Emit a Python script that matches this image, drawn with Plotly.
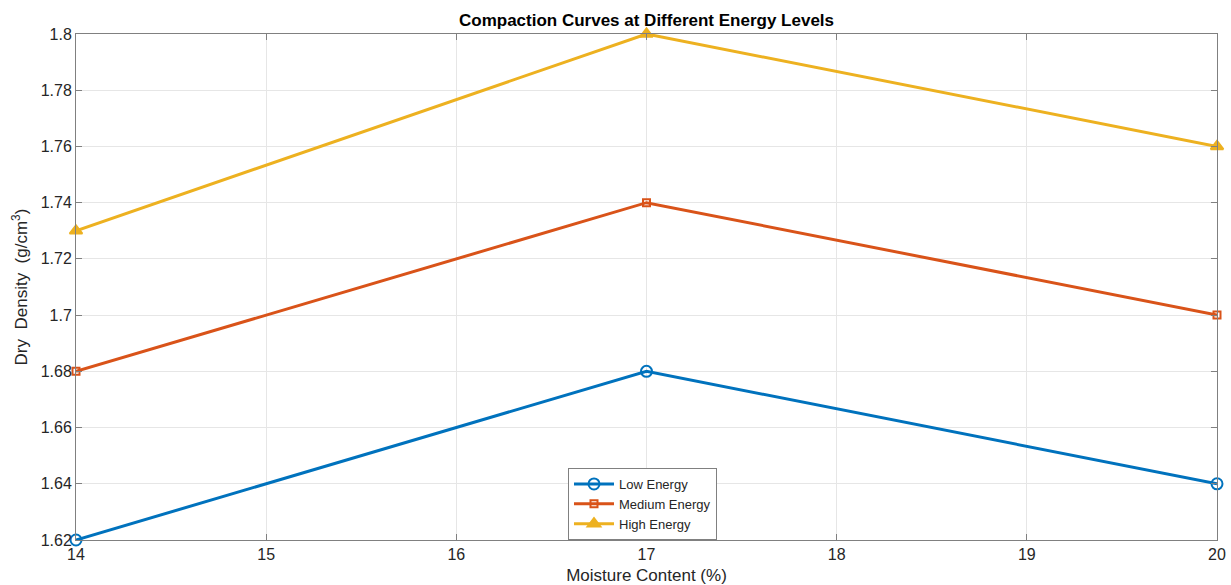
import plotly.graph_objects as go

# Compaction test results: moisture content (%) vs dry density (g/cm^3)
moisture = [14, 17, 20]
low_energy = [1.62, 1.68, 1.64]
medium_energy = [1.68, 1.74, 1.70]
high_energy = [1.73, 1.80, 1.76]

series_names = ["Low Energy", "Medium Energy", "High Energy"]
y_ticks = [1.62, 1.64, 1.66, 1.68, 1.70, 1.72, 1.74, 1.76, 1.78, 1.80]
y_tick_labels = ["1.62", "1.64", "1.66", "1.68", "1.7", "1.72", "1.74", "1.76", "1.78", "1.8"]
x_ticks = [14, 15, 16, 17, 18, 19, 20]

colors = ["#0072BD", "#D95319", "#EDB120"]
symbols = ["circle-open", "square-open", "triangle-up"]
sizes = [11, 7, 11]

fig = go.Figure()
for name, ys, c, s, sz in zip(series_names, [low_energy, medium_energy, high_energy],
                              colors, symbols, sizes):
    fig.add_trace(go.Scatter(
        x=moisture, y=ys, name=name, mode="lines+markers",
        line=dict(color=c, width=3),
        marker=dict(symbol=s, size=sz, color=c, line=dict(color=c, width=2)),
        cliponaxis=False,
    ))

axis_font = dict(family="Liberation Sans, Arial, sans-serif", size=16, color="#262626")
fig.update_layout(
    width=1231, height=585,
    margin=dict(l=76, r=14, t=34, b=45),
    paper_bgcolor="white", plot_bgcolor="white",
    font=axis_font,
    title=dict(text="<b>Compaction Curves at Different Energy Levels</b>",
               x=(76 + 1217) / 2 / 1231, xanchor="center", y=1 - 20 / 585, yanchor="middle",
               font=dict(family="Liberation Sans, Arial, sans-serif", size=17, color="#000000")),
    xaxis=dict(range=[14, 20], tickvals=x_ticks, showgrid=True, gridcolor="#e6e6e6",
               zeroline=False, showline=True, linecolor="#808080", linewidth=1, mirror="ticks",
               ticks="inside", ticklen=6, tickcolor="#808080", automargin=False,
               tickfont=dict(size=16),
               title=dict(text="Moisture Content (%)", standoff=8,
                          font=dict(size=17, color="#262626"))),
    yaxis=dict(range=[1.62, 1.80], tickvals=y_ticks, ticktext=y_tick_labels, showgrid=True,
               gridcolor="#e6e6e6", zeroline=False, showline=True, linecolor="#808080",
               linewidth=1, mirror="ticks", ticks="inside", ticklen=6, tickcolor="#808080",
               automargin=False, tickfont=dict(size=16),
               title=dict(text="Dry  Density  (g/cm<sup>3</sup>)", standoff=8,
                          font=dict(size=17, color="#262626"))),
    legend=dict(x=(568 - 76) / 1141, y=(540 - 468) / 506, xanchor="left", yanchor="top",
                bordercolor="#808080", borderwidth=1, bgcolor="white",
                font=dict(size=13, color="#262626"), tracegroupgap=0, itemwidth=40),
)

fig.write_html("out.html", post_script="document.body.style.margin='0';")
